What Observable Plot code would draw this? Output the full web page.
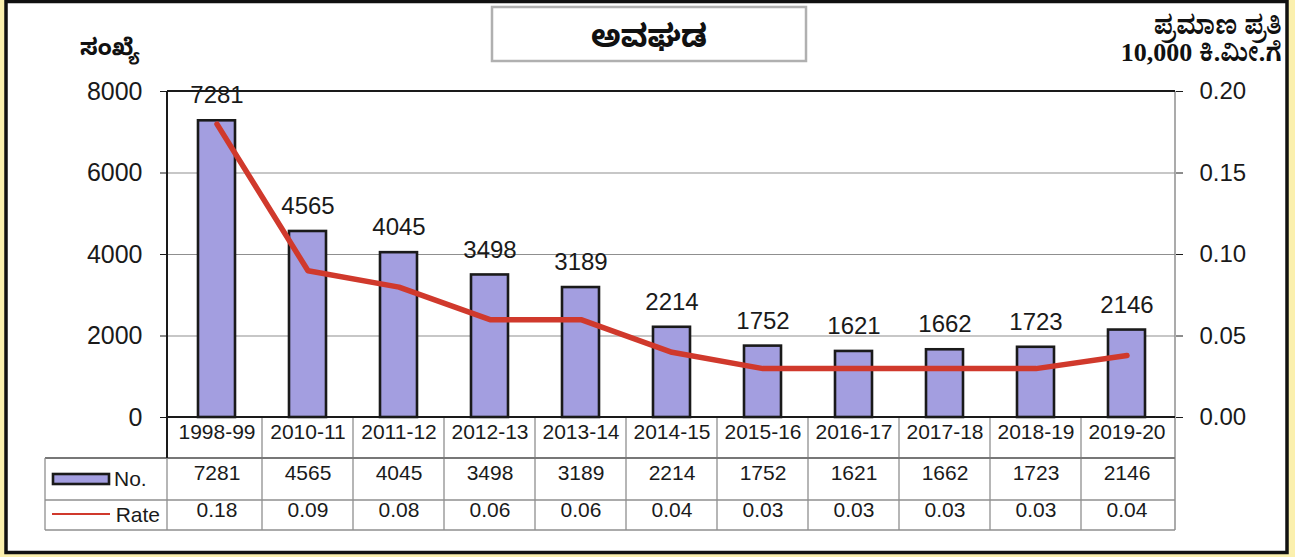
<!DOCTYPE html>
<html><head><meta charset="utf-8">
<script src="https://cdn.jsdelivr.net/npm/d3@7"></script>
<script src="https://cdn.jsdelivr.net/npm/@observablehq/plot@0.6"></script>
<style>
body{margin:0;background:#fbf0ae;width:1295px;height:557px;overflow:hidden}
#chart{position:absolute;left:0;top:0}
</style></head><body><div id="chart"></div>
<script>
const categories = ["1998-99","2010-11","2011-12","2012-13","2013-14","2014-15","2015-16","2016-17","2017-18","2018-19","2019-20"];
const counts = [7281,4565,4045,3498,3189,2214,1752,1621,1662,1723,2146];
const rates = [0.18,0.09,0.08,0.06,0.06,0.04,0.03,0.03,0.03,0.03,0.038];
const rateLabels = ["0.18","0.09","0.08","0.06","0.06","0.04","0.03","0.03","0.03","0.03","0.04"];
const countTicks = [0,2000,4000,6000,8000];
const rateTickLabels = ["0.00","0.05","0.10","0.15","0.20"];
const titleText = "ಅವಘಡ";
const leftTitle = "ಸಂಖ್ಯೆ";
const rightTitle = ["ಪ್ರಮಾಣ ಪ್ರತಿ","10,000 ಕಿ.ಮೀ.ಗೆ"];
const legendLabels = ["No.","Rate"];

const RATE_MAX = 0.2, COUNT_MAX = 8000;
const data = categories.map((c,i)=>({cat:c,count:counts[i],rateScaled:rates[i]/RATE_MAX*COUNT_MAX,rateLabel:rateLabels[i]}));

const BAR="#a39ee0", RED="#d0392c", GRID="#8f8f8f", INK="#1a1a1a";
const font = "'Liberation Sans', Arial, sans-serif";
const kfont = "'Noto Sans Kannada','Noto Serif Kannada','Lohit Kannada','Noto Sans',sans-serif";

const plot = Plot.plot({
  width:1295, height:557,
  marginTop:91, marginBottom:140, marginLeft:167, marginRight:120,
  style:{fontFamily:font, background:"transparent", overflow:"visible", color:INK},
  x:{type:"band", domain:categories, padding:0, axis:null},
  y:{domain:[0,COUNT_MAX], axis:null},
  marks:[
    Plot.ruleY([2000,4000,6000], {stroke:GRID, strokeWidth:1.2}),
    Plot.barY(data, {x:"cat", y:"count", fill:BAR, stroke:INK, strokeWidth:2.6, insetLeft:27, insetRight:27}),
    Plot.line(data, {x:"cat", y:"rateScaled", stroke:RED, strokeWidth:5.5, strokeLinejoin:"round"}),
    Plot.text(data, {x:"cat", y:"count", text:d=>String(d.count), dy:-25, fontSize:24, fill:INK}),
    Plot.axisY(countTicks, {anchor:"left", tickSize:7, tickPadding:18, fontSize:25, color:INK, tickFormat:d=>String(d)}),
    Plot.axisY(countTicks, {anchor:"right", tickSize:7, tickPadding:17, fontSize:24, color:INK, tickFormat:(d,i)=>rateTickLabels[i]}),
    Plot.text(data, {x:"cat", frameAnchor:"bottom", dy:21, text:"cat", fontSize:21, fill:INK}),
    Plot.text(data, {x:"cat", frameAnchor:"bottom", dy:62, text:d=>String(d.count), fontSize:21, fill:INK}),
    Plot.text(data, {x:"cat", frameAnchor:"bottom", dy:99, text:"rateLabel", fontSize:21, fill:INK})
  ]
});
document.getElementById("chart").appendChild(plot);

const svg = d3.select(plot);
const xs = plot.scale("x"), ys = plot.scale("y");
const [x0, x1] = xs.range;
const yTop = ys.apply(COUNT_MAX), yBot = ys.apply(0);

// outer frame
svg.insert("rect", ":first-child").attr("x",6).attr("y",1.5).attr("width",1281).attr("height",551)
  .attr("fill","#fff").attr("stroke","#111").attr("stroke-width",3.5);

const g = svg.append("g").attr("text-anchor","start");
// table lines
const rowA = yBot + 41, rowB = yBot + 83, rowC = yBot + 113, tableLeft = 45;
categories.forEach((c,i)=>{
  const xe = xs.apply(c);
  if(i>0) g.append("line").attr("x1",xe).attr("x2",xe).attr("y1",yBot).attr("y2",rowC).attr("stroke",GRID).attr("stroke-width",1.3);
});
g.append("line").attr("x1",x1).attr("x2",x1).attr("y1",yTop).attr("y2",rowC).attr("stroke",GRID).attr("stroke-width",1.5);
[rowA,rowB,rowC].forEach((yy,k)=>{
  g.append("line").attr("x1",tableLeft).attr("x2",x1).attr("y1",yy).attr("y2",yy).attr("stroke",k==0?"#777":GRID).attr("stroke-width",k==0?2:1.3);
});
g.append("line").attr("x1",tableLeft).attr("x2",tableLeft).attr("y1",rowA).attr("y2",rowC).attr("stroke",GRID).attr("stroke-width",1.3);
g.append("line").attr("x1",x0).attr("x2",x0).attr("y1",rowA).attr("y2",rowC).attr("stroke",GRID).attr("stroke-width",1.3);
// axes lines
g.append("line").attr("x1",x0).attr("x2",x1).attr("y1",yTop).attr("y2",yTop).attr("stroke",INK).attr("stroke-width",2);
g.append("line").attr("x1",x0).attr("x2",x1).attr("y1",yBot).attr("y2",yBot).attr("stroke",INK).attr("stroke-width",2.2);
g.append("line").attr("x1",x0).attr("x2",x0).attr("y1",yTop).attr("y2",rowA).attr("stroke",INK).attr("stroke-width",2);

// legend in table
const midA = (rowA+rowB)/2, midB = (rowB+rowC)/2;
g.append("rect").attr("x",53).attr("y",midA-5).attr("width",56).attr("height",10).attr("fill",BAR).attr("stroke",INK).attr("stroke-width",2.6);
g.append("text").attr("x",114).attr("y",midA).attr("dy","0.35em").attr("text-anchor","start").attr("font-size",21).attr("font-family",font).attr("fill",INK).text(legendLabels[0]);
g.append("line").attr("x1",52).attr("x2",110).attr("y1",midB-1).attr("y2",midB-1).attr("stroke",RED).attr("stroke-width",2.2);
g.append("text").attr("x",160).attr("y",midB).attr("dy","0.35em").attr("text-anchor","end").attr("font-size",21).attr("font-family",font).attr("fill",INK).text(legendLabels[1]);

// title box
g.append("rect").attr("x",492).attr("y",7).attr("width",314).attr("height",54).attr("fill","#fff").attr("stroke","#b0b0b0").attr("stroke-width",2.5);
g.append("text").attr("x",649).attr("y",36).attr("dy","0.35em").attr("text-anchor","middle").attr("font-size",31).attr("font-weight","bold").attr("font-family",kfont).attr("fill","#111").text(titleText);
// axis titles
g.append("text").attr("x",80).attr("y",47).attr("dy","0.35em").attr("text-anchor","start").attr("font-size",23).attr("font-weight","bold").attr("font-family",kfont).attr("fill","#111").text(leftTitle);
const rt = g.append("text").attr("text-anchor","end").attr("font-weight","bold").attr("fill","#111").attr("font-family","'Liberation Serif','Noto Serif Kannada','Noto Sans Kannada',serif").attr("font-size",26);
rt.append("tspan").attr("x",1282).attr("y",34).text(rightTitle[0]);
rt.append("tspan").attr("x",1282).attr("y",61).text(rightTitle[1]);
</script></body></html>
